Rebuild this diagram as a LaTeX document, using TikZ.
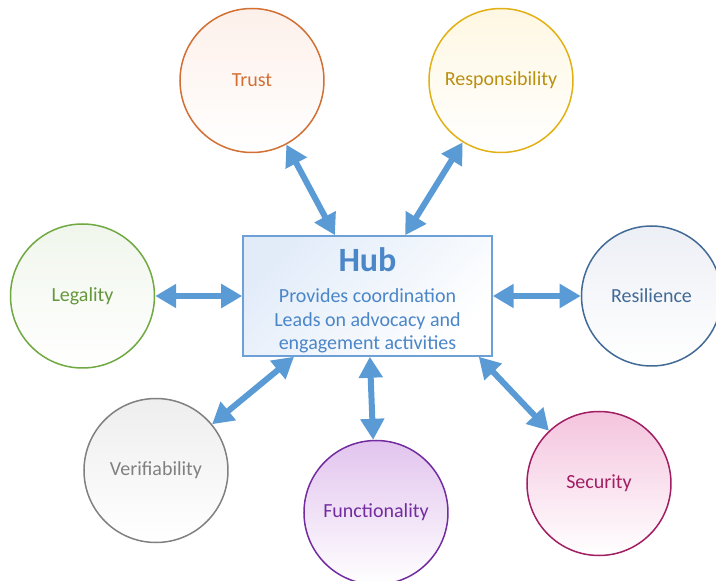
\documentclass[tikz,border=0pt]{standalone}
\usepackage{fontspec}
\setmainfont{Carlito}
\usepackage{tikz}
\usetikzlibrary{positioning,arrows.meta}

\definecolor{arrowblue}{RGB}{91,155,213}
\definecolor{hubline}{RGB}{108,160,214}
\definecolor{hubtext}{RGB}{74,134,200}
\definecolor{hubtint}{RGB}{226,236,249}
\definecolor{trustc}{RGB}{210,112,52}
\definecolor{trusttint}{RGB}{253,240,234}
\definecolor{respc}{RGB}{226,176,20}
\definecolor{resptint}{RGB}{254,247,226}
\definecolor{legalc}{RGB}{112,168,66}
\definecolor{legaltint}{RGB}{240,246,236}
\definecolor{resilc}{RGB}{66,106,150}
\definecolor{resiltint}{RGB}{236,239,245}
\definecolor{verifc}{RGB}{128,128,128}
\definecolor{veriftint}{RGB}{238,238,238}
\definecolor{funcc}{RGB}{114,44,160}
\definecolor{functint}{RGB}{226,196,238}
\definecolor{secc}{RGB}{162,30,98}
\definecolor{sectint}{RGB}{244,196,222}

\begin{document}
\begin{tikzpicture}[auto, node distance=80pt and 80pt]
	\tikzstyle{hubbox} = [rectangle, draw=hubline, line width=1.5pt, minimum width=249pt, minimum height=120pt, inner ysep=1pt, align=center, text=hubtext, top color=hubtint, bottom color=white, shading angle=45, font=\fontsize{20}{23.5}\selectfont];
	\tikzstyle{value} = [circle, minimum size=144pt, inner sep=0pt, line width=1.5pt, bottom color=white, shading angle=45, font=\fontsize{20}{24}\selectfont];
	\tikzstyle{link} = [arrowblue, line width=6pt, {Triangle[length=21pt,width=23pt]}-{Triangle[length=21pt,width=23pt]}];
	\useasboundingbox (-367.5pt,-285pt) rectangle (348.5pt,296pt);
	
	\node[hubbox](hub) at (0,0){{\fontsize{34}{38}\selectfont\bfseries\rule{0pt}{32pt}Hub}\\[8pt] Provides coordination\\ Leads on advocacy and\\ engagement activities};
	\node[value, draw=trustc, top color=trusttint, text=trustc, above = 82pt of hub, xshift=-115.5pt](trust){Trust};
	\node[value, draw=respc, top color=resptint, text=respc!82!black, above = 82pt of hub, xshift=133.5pt](responsibility){Responsibility};
	\node[value, draw=legalc, top color=legaltint, text=legalc!90!black, left = 87pt of hub](legality){Legality};
	\node[value, draw=resilc, top color=resiltint, text=resilc, minimum size=140pt, right = 88pt of hub](resilience){Resilience};
	\node[value, draw=verifc, top color=veriftint, text=verifc, below = 41pt of hub, xshift=-211.5pt](verifiability){Verifiability};
	\node[value, draw=funcc, top color=functint, text=funcc, below = 83pt of hub, xshift=8.5pt](functionality){Functionality};
	\node[value, draw=secc, top color=sectint, text=secc, below = 54pt of hub, xshift=231.5pt](security){Security};
	\coordinate[left = 14pt of hub.south east](hubcorner);
	
	\draw[link] (trust) -- (hub);
	\draw[link] (responsibility) -- (hub);
	\draw[link] (legality) -- (hub);
	\draw[link] (resilience) -- (hub);
	\draw[link] (verifiability) -- (hub);
	\draw[link] (functionality) -- (hub);
	\draw[link] (hubcorner) -- (security);
\end{tikzpicture}
\end{document}
